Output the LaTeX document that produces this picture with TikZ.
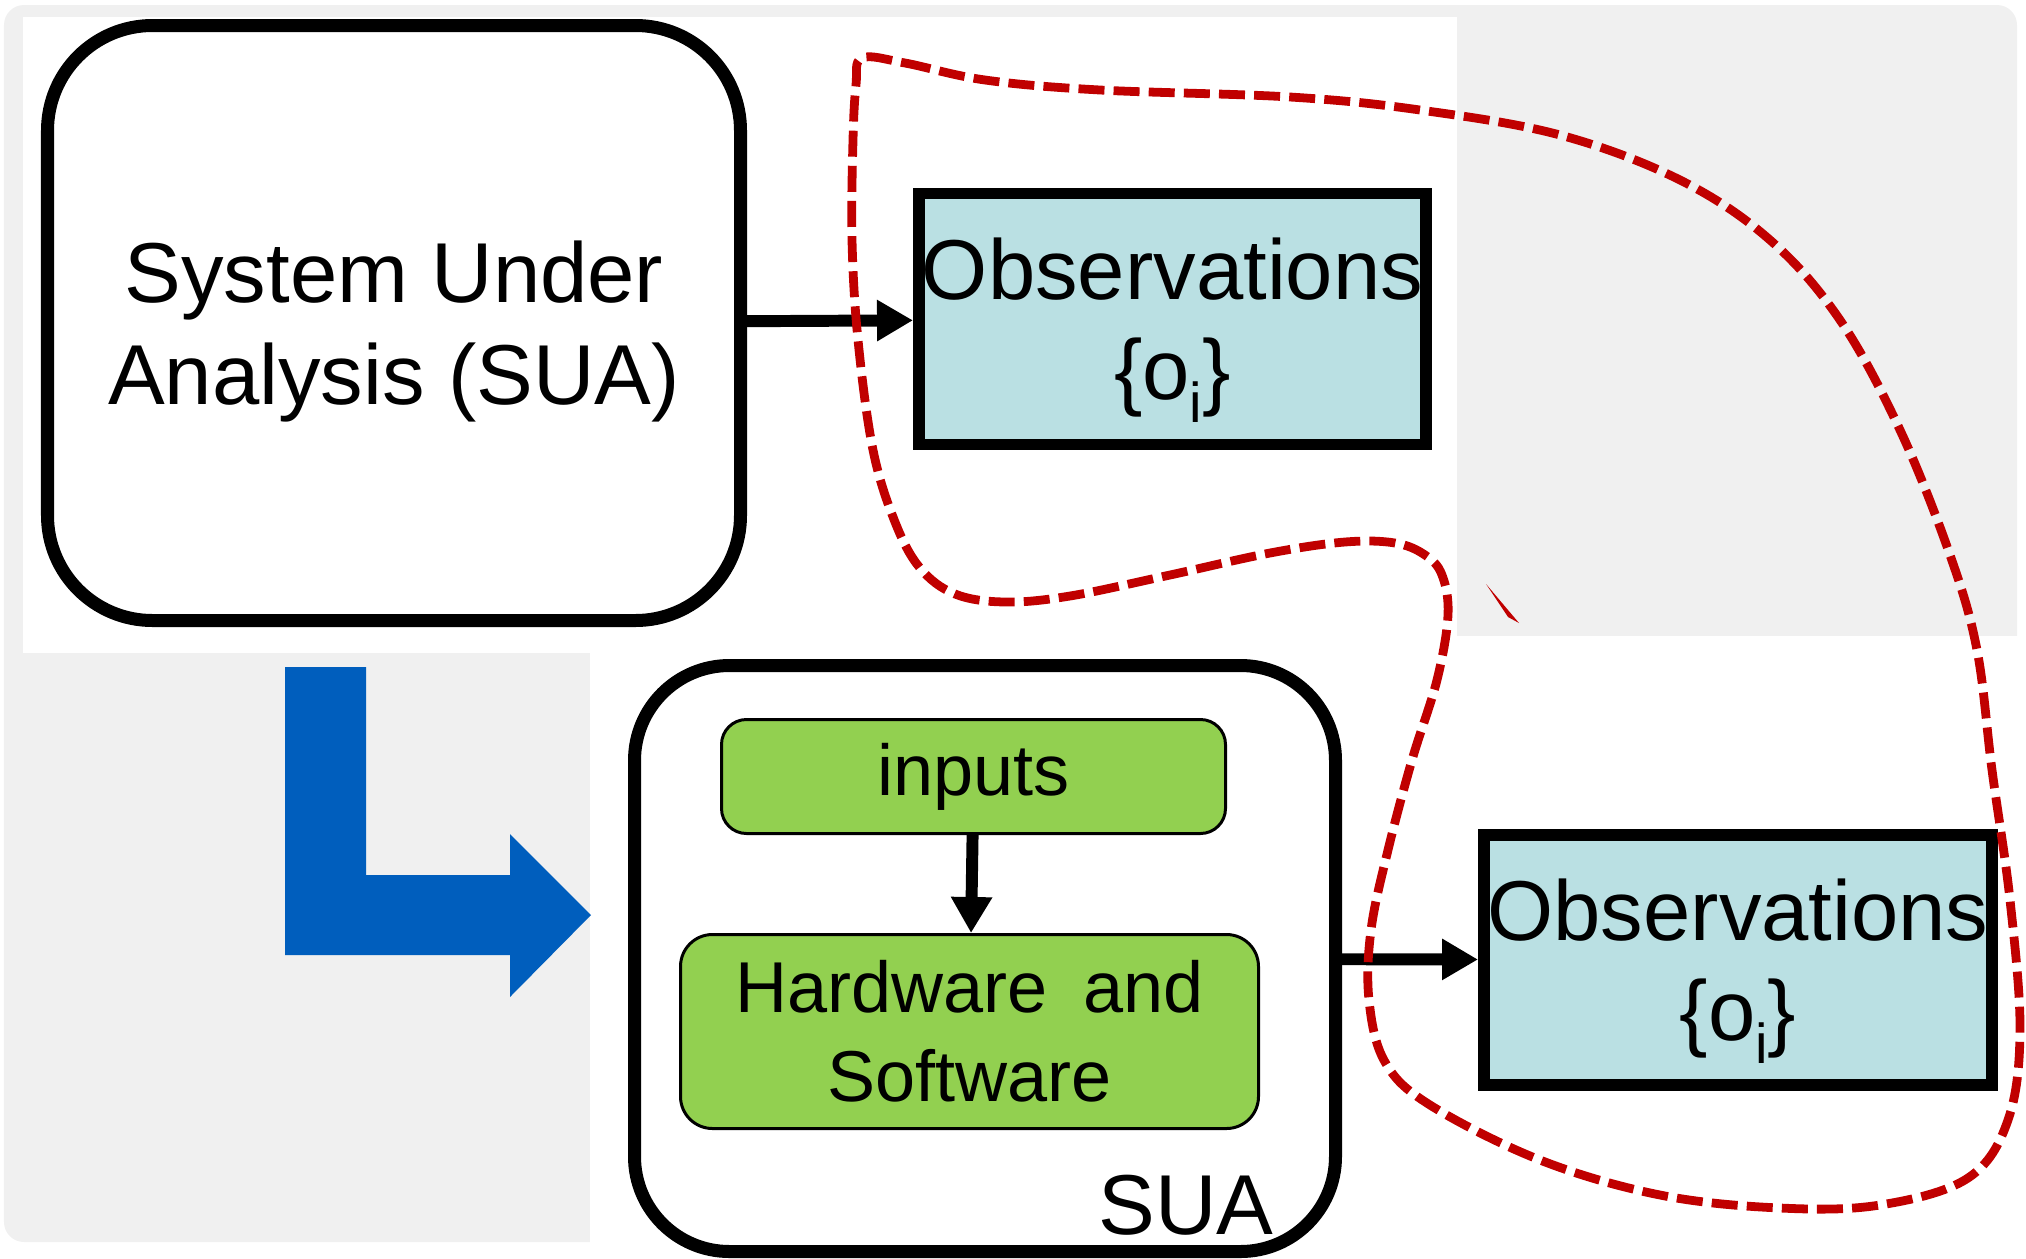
\documentclass[tikz,border=0pt]{standalone}
\usepackage{fontspec}
\setmainfont{Liberation Sans}
\usetikzlibrary{positioning, arrows.meta}
\definecolor{obsblue}{RGB}{186,224,227}
\definecolor{partgreen}{RGB}{146,208,80}
\definecolor{loopred}{RGB}{192,0,0}
\definecolor{turnblue}{RGB}{0,94,189}
\definecolor{slidegray}{RGB}{240,240,240}
\tikzstyle{Arrow} = [
%Thick black connector with a solid head:
line width = 3.4pt,
-{Triangle[length = 0.36cm, width = 0.39cm]}
]
\newcommand{\obstext}{Observations\\\{o\raisebox{-0.27em}{\fontsize{16}{16}\selectfont i}\}}

\begin{document}
\begin{tikzpicture}[
		system/.style = {rectangle, draw, line width = 3.7pt, fill = white, align = center, inner sep = 0pt, text depth = 0pt, font = \fontsize{24.2}{29}\selectfont},
		observation/.style = {rectangle, draw, line width = 3.4pt, fill = obsblue, align = center, inner sep = 0pt, text depth = 0pt, minimum width = 5.07cm, minimum height = 2.51cm, font = \fontsize{24.2}{28.5}\selectfont},
		part/.style = {rectangle, draw, line width = 0.85pt, fill = partgreen, align = center, inner sep = 0pt, font = \fontsize{20.5}{25.3}\selectfont},
		boundary/.style = {draw = loopred, line width = 2.5pt, dash pattern = on 7.4pt off 2.6pt},
	]
	\useasboundingbox (0,0) rectangle (20.26,-12.58);
	% slide background
	\fill[slidegray, rounded corners = 0.2cm] (0.04,-0.05) rectangle (20.17,-12.42);
	\fill[white] (0.23,-0.17) rectangle (14.57,-6.53);
	\fill[white] (5.90,-6.36) rectangle (20.26,-12.58);

	% turn arrow
	\fill[turnblue] (2.85,-6.67) -- (3.66,-6.67) -- (3.66,-8.75) -- (5.10,-8.75) -- (5.10,-8.34) -- (5.91,-9.15) -- (5.10,-9.97) -- (5.10,-9.55) -- (2.85,-9.55) -- cycle;

	\node[system, rounded corners = 1.05cm, minimum width = 6.93cm, minimum height = 5.95cm](sua) at (3.94,-3.23){System Under\\Analysis (SUA)};
	\node[observation](obs1) at (11.725,-3.19){\obstext};

	\node[system, rounded corners = 0.95cm, minimum width = 7.01cm, minimum height = 5.86cm](sua2) at (9.85,-9.585){};
	\node[part, rounded corners = 0.25cm, minimum width = 5.04cm, minimum height = 1.14cm](inputs) at (9.735,-7.765){inputs};
	\node[part, rounded corners = 0.32cm, minimum width = 5.78cm, minimum height = 1.94cm](hw) at (9.695,-10.315){Hardware\enspace and\\Software};
	\node[anchor = base east, inner sep = 0pt, font = \fontsize{24.2}{29}\selectfont](sualabel) at (12.74,-12.34){SUA};
	\node[observation, minimum width = 5.08cm, minimum height = 2.50cm](obs2) at (17.38,-9.60){\obstext};

	\draw[Arrow](sua)--(obs1);
	\draw[Arrow](inputs)--(hw);
	\draw[Arrow](sua2)--(obs2);

	% dashed boundary round both observation sets
	\draw[boundary] plot[smooth cycle, tension = 0.6] coordinates {(8.62,-0.58) (9.05,-0.63) (9.85,-0.80) (11.00,-0.90) (12.90,-0.97) (14.20,-1.10) (15.60,-1.35) (16.80,-1.80) (17.70,-2.40) (18.40,-3.20) (19.00,-4.30) (19.50,-5.55) (19.77,-6.50) (19.92,-7.70) (20.10,-9.00) (20.20,-10.30) (20.08,-11.20) (19.68,-11.78) (18.80,-12.05) (17.80,-12.08) (16.60,-11.95) (15.40,-11.60) (14.30,-11.05) (13.85,-10.62) (13.69,-10.00) (13.71,-9.30) (13.88,-8.50) (14.12,-7.60) (14.37,-6.80) (14.48,-6.15) (14.42,-5.75) (14.25,-5.55) (13.95,-5.43) (13.45,-5.42) (12.70,-5.53) (11.70,-5.75) (10.70,-5.96) (10.05,-6.02) (9.55,-5.94) (9.20,-5.68) (8.95,-5.22) (8.73,-4.50) (8.58,-3.40) (8.52,-2.40) (8.53,-1.40) (8.56,-0.85)};
	\fill[loopred] (14.86,-5.84) -- (15.19,-6.23) -- (15.08,-6.17) -- cycle;
\end{tikzpicture}
\end{document}
